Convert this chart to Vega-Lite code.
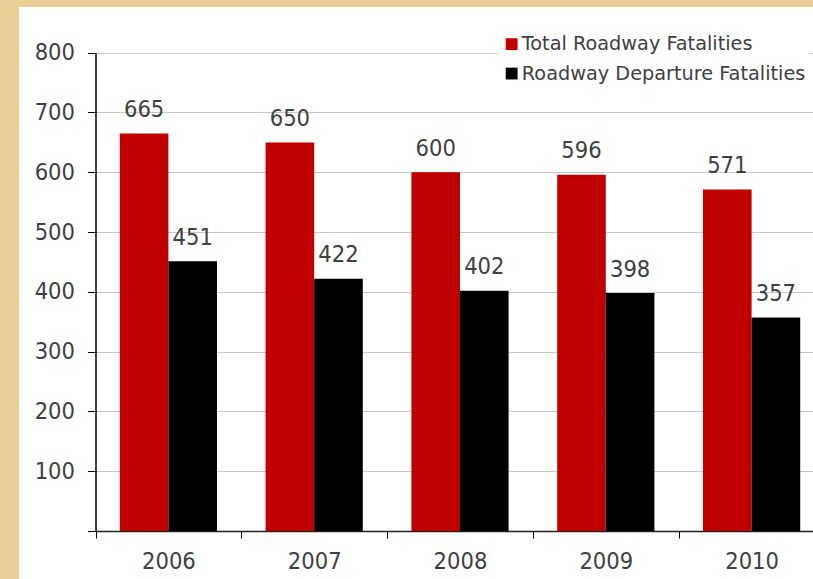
{
  "$schema": "https://vega.github.io/schema/vega-lite/v6.json",
  "autosize": "none",
  "width": 794,
  "height": 572,
  "padding": {"left": 19, "top": 7, "right": 0, "bottom": 0},
  "background": "#e8cf96",
  "view": {"fill": "white", "stroke": null},
  "data": {
    "values": [
      {"year": "2006", "series": "Total Roadway Fatalities", "value": 665},
      {"year": "2006", "series": "Roadway Departure Fatalities", "value": 451},
      {"year": "2007", "series": "Total Roadway Fatalities", "value": 650},
      {"year": "2007", "series": "Roadway Departure Fatalities", "value": 422},
      {"year": "2008", "series": "Total Roadway Fatalities", "value": 600},
      {"year": "2008", "series": "Roadway Departure Fatalities", "value": 402},
      {"year": "2009", "series": "Total Roadway Fatalities", "value": 596},
      {"year": "2009", "series": "Roadway Departure Fatalities", "value": 398},
      {"year": "2010", "series": "Total Roadway Fatalities", "value": 571},
      {"year": "2010", "series": "Roadway Departure Fatalities", "value": 357}
    ]
  },
  "encoding": {
    "x": {
      "field": "year",
      "type": "nominal",
      "scale": {"range": [76.5, 805.5], "paddingInner": 0, "paddingOuter": 0},
      "axis": {
        "title": null,
        "orient": "bottom",
        "offset": -48,
        "labelAngle": 0,
        "tickBand": "extent",
        "tickSize": 7,
        "tickColor": "#000000",
        "domainColor": "#202020",
        "domainWidth": 1.5,
        "labelFont": "DejaVu Sans Condensed",
        "labelFontSize": 23.5,
        "labelColor": "#404040",
        "labelPadding": 11,
        "grid": false
      }
    },
    "xOffset": {
      "field": "series",
      "type": "nominal",
      "scale": {"domain": ["Total Roadway Fatalities", "Roadway Departure Fatalities"], "paddingInner": 0, "paddingOuter": 0.5}
    },
    "y": {
      "field": "value",
      "type": "quantitative",
      "scale": {"domain": [0, 800], "range": [524, 45.7], "nice": false},
      "axis": {
        "title": null,
        "orient": "left",
        "offset": -76.5,
        "values": [0, 100, 200, 300, 400, 500, 600, 700, 800],
        "labelExpr": "datum.value == 0 ? '' : datum.label",
        "tickSize": 8,
        "tickColor": "#000000",
        "domainColor": "#000000",
        "domainWidth": 1.5,
        "grid": true,
        "gridColor": "#c8c8c8",
        "gridWidth": 1,
        "labelFont": "DejaVu Sans Condensed",
        "labelFontSize": 23.5,
        "labelColor": "#404040",
        "labelPadding": 13
      }
    }
  },
  "layer": [
    {
      "mark": {"type": "bar"},
      "encoding": {
        "color": {
          "field": "series",
          "type": "nominal",
          "scale": {"domain": ["Total Roadway Fatalities", "Roadway Departure Fatalities"], "range": ["#c00000", "#000000"]},
          "legend": {
            "title": null,
            "orient": "none",
            "legendX": 479,
            "legendY": 23.5,
            "direction": "vertical",
            "fillColor": "white",
            "padding": 4,
            "symbolType": "square",
            "symbolSize": 140,
            "symbolStrokeWidth": 0,
            "labelFont": "DejaVu Sans",
            "labelFontSize": 19.3,
            "labelColor": "#404040",
            "labelOffset": 0.5,
            "rowPadding": 9.4,
            "labelLimit": 400
          }
        }
      }
    },
    {
      "mark": {"type": "text", "baseline": "alphabetic", "dy": -16.5, "font": "DejaVu Sans Condensed", "fontSize": 23.5, "color": "#404040"},
      "encoding": {
        "text": {"field": "value", "type": "quantitative"}
      }
    }
  ]
}
